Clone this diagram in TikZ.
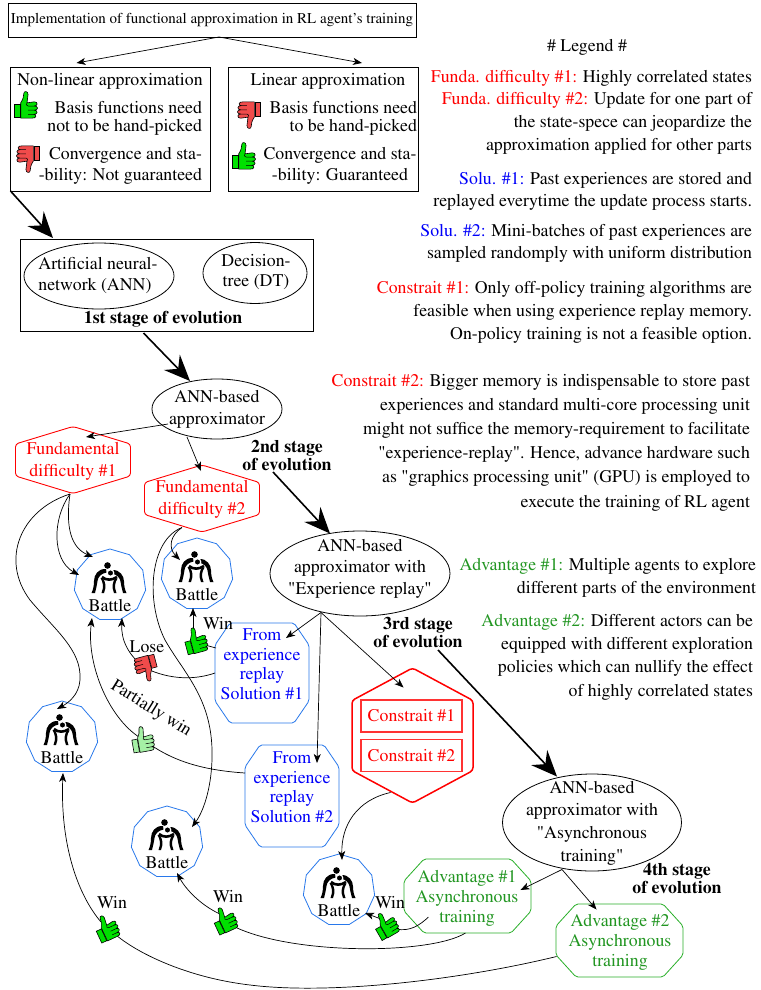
\documentclass[tikz,border=0pt]{standalone}
\usepackage[T1]{fontenc}
\usepackage{times}
\usetikzlibrary{arrows.meta,calc,shapes.geometric}

\definecolor{txtred}{RGB}{255,0,0}
\definecolor{txtblue}{RGB}{0,0,250}
\definecolor{txtgreen}{RGB}{34,150,34}
\definecolor{lineblue}{RGB}{40,120,235}
\definecolor{linegreen}{RGB}{40,175,40}
\definecolor{thgreen}{RGB}{0,225,0}
\definecolor{thred}{RGB}{240,75,75}
\definecolor{thlight}{RGB}{165,240,165}

\tikzset{
  pics/hexa/.style args={#1/#2/#3}{code={
    \draw[rounded corners=3pt] (-#1,0) -- (-#1,-#3) -- (0,-#2) -- (#1,-#3) -- (#1,#3) -- (0,#2) -- (-#1,#3) -- cycle;
  }},
  pics/octa/.style args={#1/#2/#3/#4}{code={
    \draw[rounded corners=2pt] (-#1,0) -- (-#1,-#2+#4) -- (-#1+#3,-#2) -- (#1-#3,-#2) -- (#1,-#2+#4)
      -- (#1,#2-#4) -- (#1-#3,#2) -- (-#1+#3,#2) -- (-#1,#2-#4) -- cycle;
  }},
  pics/thumb/.style={code={
    \filldraw[fill=#1, draw=black, line width=0.6pt, line join=round]
      (-6,-3) .. controls (-4,-6) and (-3,-9) .. (-3,-12)
      .. controls (-3,-14.5) and (1,-14.5) .. (1,-11)
      .. controls (1,-8) and (0,-6) .. (0,-3)
      -- (7,-4) .. controls (10.5,-4) and (10.5,0) .. (7,0)
      .. controls (11,0) and (11,4) .. (7,4)
      .. controls (10.5,4) and (10.5,8) .. (6.5,8)
      .. controls (9.5,8) and (9,12) .. (5,11.5)
      -- (-6,11.5) -- cycle;
    \filldraw[fill=#1, draw=black, line width=0.6pt] (-12,-2) rectangle (-6.5,11);
    \draw[line width=0.5pt] (1,0) -- (7,0) (1,4) -- (7,4) (1,8) -- (6.5,8) (0,-3) .. controls (-1,-1) .. (1,0);
  }},
  pics/wrestlers/.style={code={
    % two grappling figures: heads, bent backs and splayed, tapered legs
    \fill (-1.5,-12.5) circle (3.3);
    \fill (-3,-9) .. controls (-11,-9.5) and (-15,-3) .. (-15,3)
      .. controls (-15,8) and (-16,12) .. (-17.5,15) -- (-14,15)
      .. controls (-13,11) and (-12,7) .. (-11.5,3)
      .. controls (-11,-1) and (-8,-4.5) .. (-2.5,-5.5) -- cycle;
    \fill (3,-8) .. controls (11,-8.5) and (15,-2) .. (15,3.5)
      .. controls (15,8) and (16,12) .. (17.5,15) -- (14,15)
      .. controls (13,11) and (12,7) .. (11.5,3.5)
      .. controls (11,0) and (8,-3.5) .. (3,-4.5) -- cycle;
    \fill (-8.5,0) .. controls (-6,4) and (-5,9) .. (-7.5,15) -- (-5,15)
      .. controls (-2.5,9) and (-3.5,4) .. (-6,0) -- cycle;
    \fill (8.5,0.5) .. controls (6,4.5) and (5,9) .. (7.5,15) -- (5,15)
      .. controls (2.5,9) and (3.5,4.5) .. (6,0.5) -- cycle;
    \draw[line width=2.6pt] (-7,-1) .. controls (-3,2.5) and (3,2.5) .. (8,-1);
    \filldraw[draw=white, line width=1.2pt] (1.5,-5) circle (3.3);
  }}
}

\begin{document}
\begin{tikzpicture}[x=1pt,y=-1pt,
  every node/.style={inner sep=0pt, outer sep=0pt, font=\fontsize{17.8}{21}\selectfont},
  box/.style={draw, line width=0.8pt},
  ell/.style={draw, ellipse, line width=0.8pt},
  battle/.style={draw=lineblue, regular polygon, regular polygon sides=11, minimum size=72pt, line width=0.8pt},
  slot/.style={rectangle},
  soltext/.style={align=center, text=txtblue, font=\fontsize{17.8}{19.5}\selectfont},
  advtext/.style={align=center, text=txtgreen, font=\fontsize{17.8}{20}\selectfont},
  fdtext/.style={align=center, text=txtred, font=\fontsize{17.8}{22}\selectfont},
  consbox/.style={draw=red!80, line width=1.1pt, text=red, minimum width=101pt, minimum height=32pt},
  legend/.style={align=right, anchor=east},
  stage/.style={align=center, font=\fontsize{17.8}{18}\selectfont\bfseries},
  arr/.style={-{Stealth[length=9pt,width=7pt,inset=2.5pt]}, line width=0.7pt},
  bigarr/.style={-{Stealth[length=26pt,width=22pt,inset=9pt]}, line width=1.6pt},
  line/.style={line width=0.7pt}
]
\fill[white] (0,0) rectangle (760,990);
\useasboundingbox (0,0) rectangle (760,990);

% ---------- top of the tree ----------
\node[box, font=\fontsize{15}{18}\selectfont, minimum width=408pt, minimum height=34pt] (title) at (212,20)
  {Implementation of functional approximation in RL agent's training};

\node[box, minimum width=200pt, minimum height=124pt] (nonlin) at (110.5,129) {};
\node (nlt) at (110,81) {Non-linear approximation};
\node[align=right, anchor=east, font=\fontsize{17.8}{18}\selectfont] (nl1) at (202,118) {Basis functions need\\not to be hand-picked};
\node[align=right, anchor=east, font=\fontsize{17.8}{21}\selectfont] (nl2) at (202,166) {Convergence and sta-\\-bility: Not guaranteed};

\node[box, minimum width=190pt, minimum height=124pt] (lin) at (323,129) {};
\node (lit) at (328,81) {Linear approximation};
\node[align=right, anchor=east, font=\fontsize{17.8}{18}\selectfont] (li1) at (417,118) {Basis functions need\\to be hand-picked};
\node[align=center, font=\fontsize{17.8}{21}\selectfont] (li2) at (340,166) {Convergence and sta-\\-bility: Guaranteed};

\draw[arr] ($(title.south)+(7,0)$) -- ($(nonlin.north)+(-34,-4)$);
\draw[arr] ($(title.south)+(7,0)$) -- ($(lin.north)+(39,-4)$);

% ---------- 1st stage ----------
\node[box, minimum width=293pt, minimum height=92pt] (st1) at (166.5,285) {};
\node[ell, minimum width=150pt, minimum height=66pt] (annel) at (99,276) {};
\node[align=left] (annt) at (98,276) {Artificial neural-\\network (ANN)};
\node[ell, minimum width=104pt, minimum height=61pt] (dtel) at (255,273) {};
\node[align=center, font=\fontsize{17.8}{20}\selectfont] (dtt) at (256,272) {Decision-\\tree (DT)};
\node[stage] (st1lab) at (163,319) {1st stage of evolution};

\draw[bigarr] (nonlin.south west) -- ($(st1.north west)+(33,-1)$);

% ---------- ANN-based approximator ----------
\node[ell, minimum width=130pt, minimum height=60pt] (ann1) at (217,409) {};
\node[align=center, font=\fontsize{17.8}{22}\selectfont] (ann1t) at (217,409) {ANN-based\\approximator};
\draw[bigarr] ($(st1.south)+(-23,2)$) -- ($(ann1)+(-27,-28)$);

\node[fdtext] (fd1) at (73,461) {Fundamental\\difficulty \#1};
\pic[red, line width=0.9pt] at (73,460) {hexa=57.5/33.5/16};
\node[fdtext] (fd2) at (202,499) {Fundamental\\difficulty \#2};
\pic[red, line width=0.9pt] at (202,498.5) {hexa=57.5/33.5/16};

\draw[arr] ($(ann1)+(-49,15)$) -- ($(fd1)+(13,-24)$);
\draw[arr] ($(ann1)+(-30,28)$) -- ($(fd2)+(-1,-28)$);

\node[stage] (st2) at (287,455) {2nd stage\\of evolution};

% ---------- battles ----------
\node[battle] (b1) at (110,585) {};
\node[battle] (b2) at (197,574) {};
\node[battle] (b3) at (62,737) {};
\node[battle] (b4) at (167,842) {};
\node[battle] (b5) at (339,890) {};
\foreach \b in {b1,b2,b3,b4,b5}{
  \pic at ($(\b)+(-1,-7)$) {wrestlers};
  \node (\b t) at ($(\b)+(0,21)$) {Battle};
}

% ---------- experience replay ----------
\node[ell, minimum width=180pt, minimum height=85pt] (er) at (360,573.5) {};
\node[align=center, font=\fontsize{17.8}{21.5}\selectfont] (ert) at (360,568.5) {ANN-based\\approximator with\\"Experience replay"};
\draw[bigarr] ($(st2)+(-14,17)$) -- ($(er)+(-30,-40)$);

\node[slot, minimum width=94pt, minimum height=100pt] (sol1) at (262,673) {};
\pic[lineblue, line width=0.8pt] at (sol1) {octa=47/50/15/22};
\node[soltext] (sol1t) at (262,664.5) {From\\experience\\replay\\Solution \#1};
\node[slot, minimum width=94pt, minimum height=102pt] (sol2) at (292,796) {};
\pic[lineblue, line width=0.8pt] at (sol2) {octa=47/51/15/22};
\node[soltext] (sol2t) at (292,787.5) {From\\experience\\replay\\Solution \#2};

\node[slot, minimum width=121pt, minimum height=135pt] (cons) at (412.5,735.5) {};
\pic[red, line width=1.5pt] at (cons) {hexa=60.5/67.5/35};
\node[consbox] (c1) at (411.5,716) {Constrait \#1};
\node[consbox] (c2) at (411.5,755.5) {Constrait \#2};

\draw[arr] ($(er)+(-39,39)$) -- ($(sol1)+(24,-35)$);
\draw[arr] ($(er)+(-39,39)$) -- ($(sol2)+(25,-33)$);
\draw[arr] ($(er)+(-39,39)$) -- ($(cons)+(-9,-48)$);

\node[stage] (st3) at (418,632) {3rd stage\\of evolution};

% ---------- asynchronous training ----------
\node[ell, minimum width=179pt, minimum height=97pt] (async) at (592,822.5) {};
\node[align=center, font=\fontsize{17.8}{22.7}\selectfont] (asynct) at (592,823) {ANN-based\\approximator with\\"Asynchronous\\training"};
\draw[bigarr] ($(st3)+(20,18)$) -- ($(async)+(-35,-46)$);

\node[slot, minimum width=127pt, minimum height=74pt] (adv1) at (467.5,896) {};
\pic[linegreen, line width=0.8pt] at (adv1) {octa=63.5/37/20/22};
\node[advtext] (adv1t) at (467,898) {Advantage \#1\\Asynchronous\\training};
\node[slot, minimum width=127pt, minimum height=73pt] (adv2) at (619.5,940.5) {};
\pic[linegreen, line width=0.8pt] at (adv2) {octa=63.5/36.5/20/22};
\node[advtext] (adv2t) at (620,942) {Advantage \#2\\Asynchronous\\training};

\draw[arr] ($(async)+(-30,47)$) -- ($(adv1)+(53,-6)$);
\draw[arr] ($(async)+(-30,47)$) -- ($(adv2)+(-23,-31)$);

\node[stage] (st4) at (677,878) {4th stage\\of evolution};

% ---------- outcome links ----------
\coordinate (th1) at (197,641);
\coordinate (th2) at (145,668);
\coordinate (th3) at (144,740);
\coordinate (th4) at (108,928);
\coordinate (th5) at (226,920);
\coordinate (th6) at (387,925);

% difficulty #1 -> battles
\draw[arr] ($(fd1)+(-3,33)$) .. controls +(-18,25) and +(-27,-15) .. ($(b1)+(-31,-10)$);
\draw[arr] ($(fd1)+(-3,33)$) .. controls +(-5,35) and +(-21,-9) .. ($(b1)+(-17,-28)$);
\draw[arr] ($(fd1)+(-3,33)$) .. controls (20,510) and (0,560) .. (30,600)
  .. controls (55,630) and (82,650) .. (80,680)
  .. controls (79,695) and (68,703) .. ($(b3)+(-5,-28)$);

% difficulty #2 -> battles
\draw[arr] ($(fd2)+(-20,28.5)$) .. controls +(-12,8) and +(-12,-12) .. ($(b2)+(-17,-14)$);
\draw[arr] ($(fd2)+(-20,28.5)$) .. controls (150,540) and (145,600) .. (165,640)
  .. controls (185,675) and (214,700) .. (212,760)
  .. controls (211,790) and (203,812) .. ($(b4)+(25,-15)$);

% solution #1 -> battles
\draw[line] ($(sol1)+(-46,-25)$) -- ($(th1)+(8,4)$);
\draw[arr] ($(th1)+(-4,-8)$) -- ($(b2)+(-4,34)$);
\draw[line] ($(sol1)+(-47,0)$) .. controls (195,680) and (170,680) .. (th2);
\draw[arr] (th2) .. controls (128,655) and (121,640) .. ($(b1)+(12,33)$);

% solution #2 -> battle
\draw[line] ($(sol2)+(-47,-23)$) .. controls (200,770) and (170,760) .. (th3);
\draw[arr] (th3) .. controls (110,722) and (86,665) .. ($(b1)+(-18,33)$);

% constraint -> battle
\draw[arr] ($(cons)+(-22,57)$) .. controls (357,800) and (341,825) .. ($(b5)+(3,-30)$);

% advantages -> battles
\draw[line] ($(adv1)+(-2,37)$) .. controls (430,955) and (290,955) .. ($(th5)+(7,6)$);
\draw[arr] ($(th5)+(-6,-6)$) .. controls (200,905) and (185,888) .. ($(b4)+(10,31)$);
\draw[line] ($(adv2)+(-63,16)$) .. controls (460,980) and (330,995) .. (250,985)
  .. controls (190,978) and (140,955) .. ($(th4)+(8,7)$);
\draw[arr] ($(th4)+(-7,-6)$) .. controls (78,895) and (60,845) .. ($(b3)+(1,36)$);
\draw[line] ($(adv1)+(-39,21)$) .. controls (420,925) and (410,932) .. ($(th6)+(9,4)$);
\draw[arr] ($(th6)+(-6,-6)$) -- ($(b5)+(26,23)$);

% outcome labels
\node (wl1) at (218,624) {Win};
\node (ll1) at (147,647) {Lose};
\node[rotate=-32] (pw1) at (151,709) {Partially win};
\node (wl2) at (112,903) {Win};
\node (wl3) at (228,897) {Win};
\node (wl4) at (390,903) {Win};

% thumbs
\pic[scale=1.05] at (27,106) {thumb=thgreen};
\pic[scale=1.05, rotate=180] at (27,158) {thumb=thred};
\pic[scale=1.05, rotate=180] at (248,114) {thumb=thred};
\pic[scale=1.05] at (245,157) {thumb=thgreen};
\pic[rotate=15] at (th1) {thumb=thgreen};
\pic[rotate=195] at (th2) {thumb=thred};
\pic[rotate=10] at (th3) {thumb=thlight};
\pic[rotate=25] at (th4) {thumb=thgreen};
\pic[rotate=25] at (th5) {thumb=thgreen};
\pic[rotate=30] at (th6) {thumb=thgreen};

% ---------- legend ----------
\node (lg0) at (587,47) {\# Legend \#};
\node[legend] (lg1) at (752,78) {\textcolor{txtred}{Funda. difficulty \#1:} Highly correlated states};
\node[legend, font=\fontsize{17.8}{22.7}\selectfont] (lg2) at (752,123.5)
  {\textcolor{txtred}{Funda. difficulty \#2:} Update for one part of\\the state-spece can jeopardize the\\approximation applied for other parts};
\node[legend, font=\fontsize{17.8}{22}\selectfont] (lg3) at (752,191)
  {\textcolor{txtblue}{Solu. \#1:} Past experiences are stored and\\replayed everytime the update process starts.};
\node[legend, font=\fontsize{17.8}{22}\selectfont] (lg4) at (752,243)
  {\textcolor{txtblue}{Solu. \#2:} Mini-batches of past experiences are\\sampled randomply with uniform distribution};
\node[legend, font=\fontsize{17.8}{23}\selectfont] (lg5) at (752,312)
  {\textcolor{txtred}{Constrait \#1:} Only off-policy training algorithms are\\feasible when using experience replay memory.\\On-policy training is not a feasible option.};
\node[legend, font=\fontsize{17.8}{24.2}\selectfont] (lg6) at (750,442.5)
  {\textcolor{txtred}{Constrait \#2:} Bigger memory is indispensable to store past\\experiences and standard multi-core processing unit\\might not suffice the memory-requirement to facilitate\\"experience-replay". Hence, advance hardware such\\as "graphics processing unit" (GPU) is employed to\\execute the training of RL agent};
\node[legend, font=\fontsize{17.8}{23}\selectfont] (lg7) at (756,577.5)
  {\textcolor{txtgreen}{Advantage \#1:} Multiple agents to explore\\different parts of the environment};
\node[legend, font=\fontsize{17.8}{23.3}\selectfont] (lg8) at (753,657)
  {\textcolor{txtgreen}{Advantage \#2:} Different actors can be\\equipped with different exploration\\policies which can nullify the effect\\of highly correlated states};
\end{tikzpicture}
\end{document}
